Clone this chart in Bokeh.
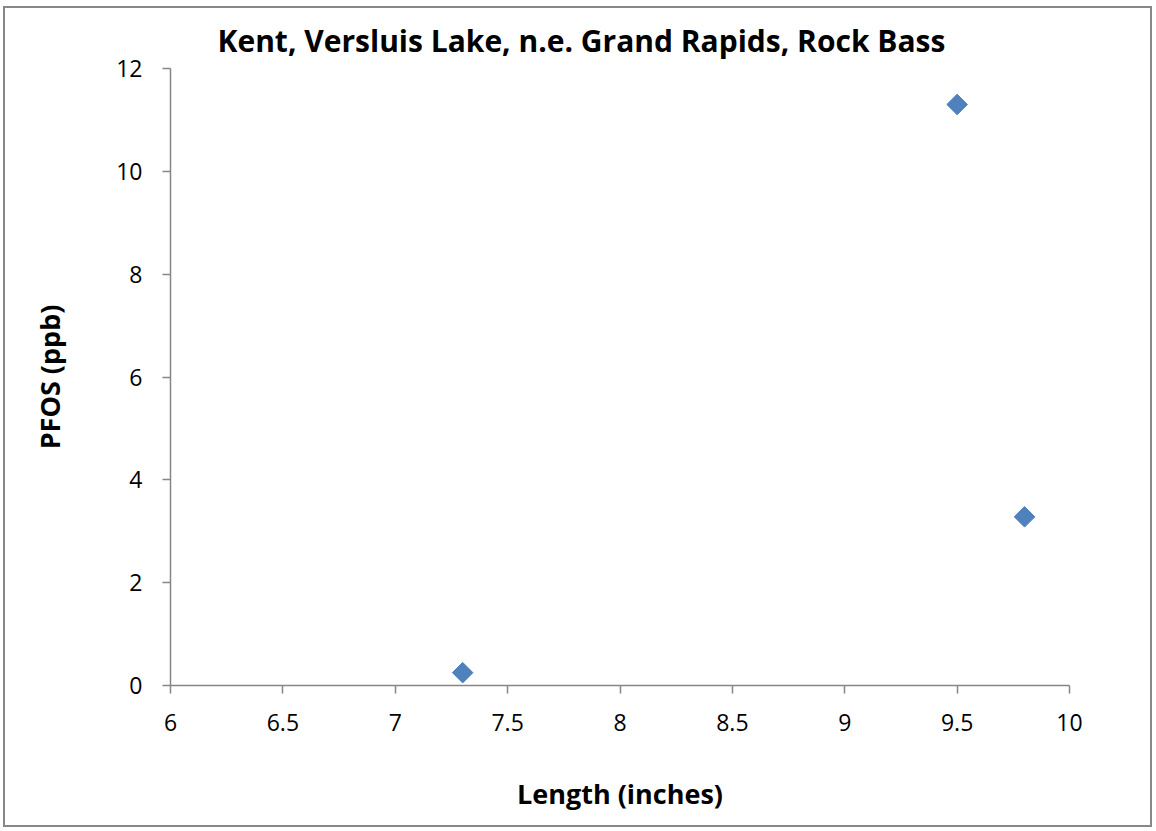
from bokeh.plotting import figure
from bokeh.models import Range1d, FixedTicker
from bokeh.embed import file_html
from bokeh.resources import INLINE
import numpy as np

length_in = [7.3, 9.5, 9.8]
pfos_ppb = [0.25, 11.3, 3.28]
x_ticks = [6, 6.5, 7, 7.5, 8, 8.5, 9, 9.5, 10]
y_ticks = [0, 2, 4, 6, 8, 10, 12]
title_text = "Kent, Versluis Lake, n.e. Grand Rapids, Rock Bass"

FONT = "Open Sans"
W, H = 1149, 821
p = figure(width=W, height=H, output_backend="svg", toolbar_location=None,
           x_range=Range1d(6, 10), y_range=Range1d(0, 12),
           min_border_left=165, min_border_right=85,
           min_border_top=60, min_border_bottom=144,
           margin=(6, 0, 0, 3),
           styles={"border": "2px solid #888888"})
p.outline_line_color = None
p.xgrid.visible = False
p.ygrid.visible = False
p.background_fill_color = "white"
p.border_fill_color = "white"

p.title.text = title_text
p.title.align = "left"
p.title.offset = 47
p.title.standoff = 16
p.title.text_font = FONT
p.title.text_font_style = "bold"
p.title.text_font_size = "30px"
p.title.text_color = "#000000"

axis_color = "#868686"
for ax in (p.xaxis[0], p.yaxis[0]):
    ax.axis_line_color = axis_color
    ax.axis_line_width = 1.5
    ax.major_tick_line_color = axis_color
    ax.major_tick_line_width = 1.5
    ax.major_tick_in = 0
    ax.major_tick_out = 8
    ax.minor_tick_line_color = None
    ax.major_label_text_font = FONT
    ax.major_label_text_font_size = "23px"
    ax.major_label_text_color = "#000000"
    ax.axis_label_text_font = FONT
    ax.axis_label_text_font_style = "bold"
    ax.axis_label_text_font_size = "27px"
    ax.axis_label_text_color = "#000000"

p.xaxis.ticker = FixedTicker(ticks=x_ticks)
p.yaxis.ticker = FixedTicker(ticks=y_ticks)
p.xaxis.major_label_overrides = {t: (str(int(t)) if float(t).is_integer() else str(t)) for t in x_ticks}
p.xaxis.axis_label = "Length (inches)"
p.yaxis.axis_label = "PFOS (ppb)"
p.xaxis.major_label_standoff = 20
p.yaxis.major_label_standoff = 20
p.xaxis.axis_label_standoff = 41
p.yaxis.axis_label_standoff = 45

p.scatter(length_in, pfos_ppb, marker="square", angle=np.pi / 4, size=14.5,
          fill_color="#4F81BD", line_color="#4A7EBB", line_width=1)

open("out.html", "w").write(file_html(p, INLINE))
